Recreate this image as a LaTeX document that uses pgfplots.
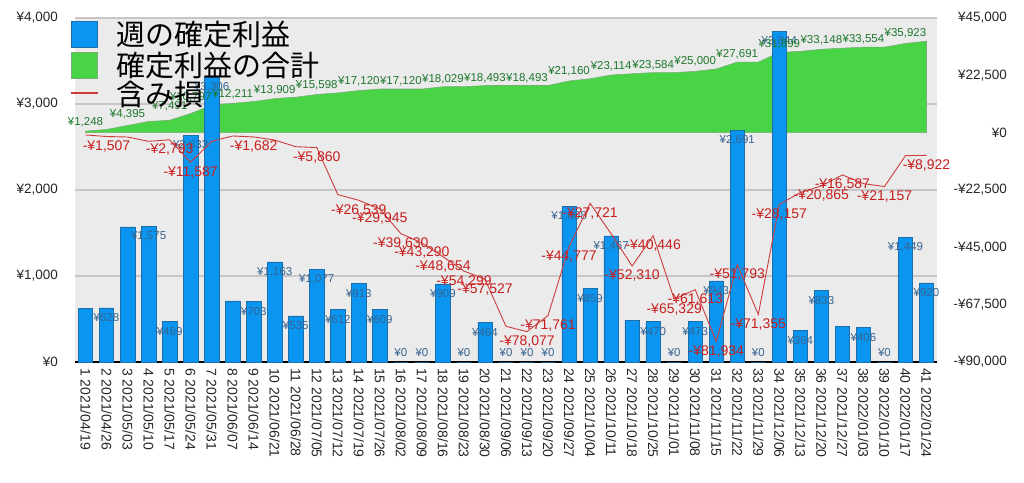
\documentclass[border=0pt]{standalone}
\usepackage{fontspec}
\setmainfont{Liberation Sans}
\newfontfamily\cjk{Noto Sans CJK JP}
\usepackage{pgfplots}
\usepackage{pgfplotstable}
\pgfplotsset{compat=1.18}

\definecolor{bggray}{RGB}{235,235,235}
\definecolor{gridgray}{RGB}{198,198,198}
\definecolor{barblue}{RGB}{10,150,240}
\definecolor{baredge}{RGB}{30,110,170}
\definecolor{areagreen}{RGB}{72,212,68}
\definecolor{areaedge}{RGB}{120,175,120}
\definecolor{lossred}{RGB}{205,60,60}
\definecolor{redlab}{RGB}{200,30,30}
\definecolor{greenlab}{RGB}{30,120,45}
\definecolor{barlab}{RGB}{55,100,145}

% k: week, v: weekly profit, c: cumulative, cn: next cumulative (label y),
% r: unrealised loss, lb/lc/lr: label texts shown in the chart
\pgfplotstableread{
k  v    c     cn    r      lb      lc       lr
1  620  620   1248  -900   {}      ¥1,248   {}
2  628  1248  2820  -1507  ¥628    {}       -¥1,507
3  1572 2820  4395  -1700  {}      ¥4,395   {}
4  1575 4395  4864  -3400  ¥1,575  {}       {}
5  469  4864  7491  -2793  ¥469    ¥7,491   -¥2,793
6  2633 7491  10797 -11587 ¥2,633  ¥10,797  -¥11,587
7  3306 10797 11508 -3400  ¥3,306  {}       {}
8  711  11508 12211 -1300  {}      ¥12,211  {}
9  703  12211 13374 -1682  ¥703    {}       -¥1,682
10 1163 13374 13909 -2900  ¥1,163  ¥13,909  {}
11 535  13909 14986 -5500  ¥535    {}       {}
12 1077 14986 15598 -5860  ¥1,077  ¥15,598  -¥5,860
13 612  15598 16511 -24300 ¥612    {}       {}
14 913  16511 17120 -26539 ¥913    ¥17,120  -¥26,539
15 609  17120 17120 -29945 ¥609    {}       -¥29,945
16 0    17120 17120 -39630 ¥0      ¥17,120  -¥39,630
17 0    17120 18029 -43290 ¥0      {}       -¥43,290
18 909  18029 18029 -48654 ¥909    ¥18,029  -¥48,654
19 0    18029 18493 -54299 ¥0      {}       -¥54,299
20 464  18493 18493 -57527 ¥464    ¥18,493  -¥57,527
21 0    18493 18493 -76000 ¥0      {}       {}
22 0    18493 18493 -78077 ¥0      ¥18,493  -¥78,077
23 0    18493 20301 -71761 ¥0      {}       -¥71,761
24 1808 20301 21160 -44777 ¥1,808  ¥21,160  -¥44,777
25 859  21160 22627 -27721 ¥859    {}       -¥27,721
26 1467 22627 23114 -39700 ¥1,467  ¥23,114  {}
27 487  23114 23584 -52310 {}      {}       -¥52,310
28 470  23584 23584 -40446 ¥470    ¥23,584  -¥40,446
29 0    23584 24057 -65329 ¥0      {}       -¥65,329
30 473  24057 25000 -61613 ¥473    ¥25,000  -¥61,613
31 943  25000 27691 -81934 ¥943    {}       -¥81,934
32 2691 27691 27691 -51793 ¥2,691  ¥27,691  -¥51,793
33 0    27691 31535 -71355 ¥0      {}       -¥71,355
34 3844 31535 31899 -28157 ¥3,844  ¥31,899  -¥28,157
35 364  31899 32732 -23500 ¥364    {}       {}
36 833  32732 33148 -20865 ¥833    ¥33,148  -¥20,865
37 416  33148 33554 -16587 {}      {}       -¥16,587
38 406  33554 33554 -20000 ¥406    ¥33,554  {}
39 0    33554 35003 -21157 ¥0      {}       -¥21,157
40 1449 35003 35923 -9000  ¥1,449  ¥35,923  {}
41 920  35923 nan   -8922  ¥920    {}       -¥8,922
}\data

\pgfplotsset{
  base/.style={width=862pt, height=344pt, scale only axis,
    at={(75pt,120pt)}, anchor=south west, xmin=0.5, xmax=41.5},
}

\begin{document}
\begin{tikzpicture}
\path[use as bounding box] (0,0) rectangle (1024pt,482pt);

% background, grid, ticks of the left scale and the weeks
\begin{axis}[base, ymin=0, ymax=4000,
  axis background/.style={fill=bggray},
  axis x line*=bottom, axis y line*=left,
  x axis line style={black, line width=2pt, -},
  y axis line style={draw=none},
  major tick length=0pt,
  ymajorgrids, grid style={gridgray, line width=1.2pt},
  ytick={0,1000,2000,3000,4000},
  yticklabels={¥0,{¥1,000},{¥2,000},{¥3,000},{¥4,000}},
  yticklabel style={anchor=east, inner sep=0pt, xshift=-17pt,
    font=\fontsize{13.5pt}{15pt}\selectfont, text=black!85},
  xtick={1,...,41},
  xticklabels={1 2021/04/19,2 2021/04/26,3 2021/05/03,4 2021/05/10,5 2021/05/17,
    6 2021/05/24,7 2021/05/31,8 2021/06/07,9 2021/06/14,10 2021/06/21,
    11 2021/06/28,12 2021/07/05,13 2021/07/12,14 2021/07/19,15 2021/07/26,
    16 2021/08/02,17 2021/08/09,18 2021/08/16,19 2021/08/23,20 2021/08/30,
    21 2021/09/06,22 2021/09/13,23 2021/09/20,24 2021/09/27,25 2021/10/04,
    26 2021/10/11,27 2021/10/18,28 2021/10/25,29 2021/11/01,30 2021/11/08,
    31 2021/11/15,32 2021/11/22,33 2021/11/29,34 2021/12/06,35 2021/12/13,
    36 2021/12/20,37 2021/12/27,38 2022/01/03,39 2022/01/10,40 2022/01/17,
    41 2022/01/24},
  xticklabel style={rotate=-90, anchor=west, inner xsep=6pt, inner ysep=0pt,
    font=\fontsize{14pt}{16pt}\selectfont, text=black!85},
]
\end{axis}

% cumulative profit (right scale)
\begin{axis}[base, ymin=-90000, ymax=45000,
  hide x axis,
  axis y line*=right, y axis line style={draw=none},
  major tick length=0pt, scaled y ticks=false,
  ytick={-90000,-67500,-45000,-22500,0,22500,45000},
  yticklabels={{-¥90,000},{-¥67,500},{-¥45,000},{-¥22,500},¥0,{¥22,500},{¥45,000}},
  yticklabel style={anchor=east, inner sep=0pt, xshift=70pt,
    font=\fontsize{13.5pt}{15pt}\selectfont, text=black!85},
]
\addplot[fill=areagreen, draw=areaedge, line width=0.6pt] table[x=k, y=c] {\data} \closedcycle;
\end{axis}

% weekly profit bars (left scale)
\begin{axis}[base, ymin=0, ymax=4000, hide axis, clip=false]
\addplot[ybar, bar width=14.4pt, fill=barblue, draw=baredge, line width=0.5pt,
  nodes near coords, point meta=explicit symbolic,
  nodes near coords align=center,
  visualization depends on={y \as \rawy},
  every node near coord/.append style={anchor=center, inner sep=0pt,
    yshift={\rawy<1 ? 9pt : -10pt},
    font=\fontsize{11.5pt}{13pt}\selectfont, text=barlab},
] table[x=k, y=v, meta=lb] {\data};
\end{axis}

% unrealised loss line, cumulative labels and legend (right scale)
\begin{axis}[base, ymin=-90000, ymax=45000, hide axis, clip=false,
  legend style={at={(axis description cs:0,1)}, anchor=north west,
    xshift=-4pt, yshift=-3pt, draw=none, fill=none, inner sep=0pt,
    font=\cjk\fontsize{29pt}{31pt}\selectfont,
    row sep=0pt, column sep=18.5pt,
    nodes={inner sep=0pt, text height=22pt, text depth=7pt}},
  legend cell align=left,
]
\addlegendimage{legend image code/.code={
  \fill[barblue, draw=baredge, line width=0.5pt] (0pt,-9.5pt) rectangle (26pt,16.5pt);}}
\addlegendimage{legend image code/.code={
  \fill[areagreen, draw=areaedge, line width=0.5pt] (0pt,-9.5pt) rectangle (26pt,16.5pt);}}
\addlegendimage{legend image code/.code={
  \fill[lossred] (0pt,5pt) rectangle (26pt,6pt);}}
\addplot[lossred, line width=0.9pt, mark=none, forget plot,
  nodes near coords, point meta=explicit symbolic,
  every node near coord/.append style={anchor=center, inner sep=0pt, yshift=-10pt,
    font=\fontsize{14pt}{16pt}\selectfont, text=redlab},
] table[x=k, y=r, meta=lr] {\data};
\addplot[draw=none, mark=none, forget plot,
  nodes near coords, point meta=explicit symbolic,
  every node near coord/.append style={anchor=center, inner sep=0pt, yshift=7.5pt,
    font=\fontsize{11.5pt}{13pt}\selectfont, text=greenlab},
] table[x=k, y=cn, meta=lc] {\data};
\legend{週の確定利益,確定利益の合計,含み損}
\end{axis}
\end{tikzpicture}
\end{document}
